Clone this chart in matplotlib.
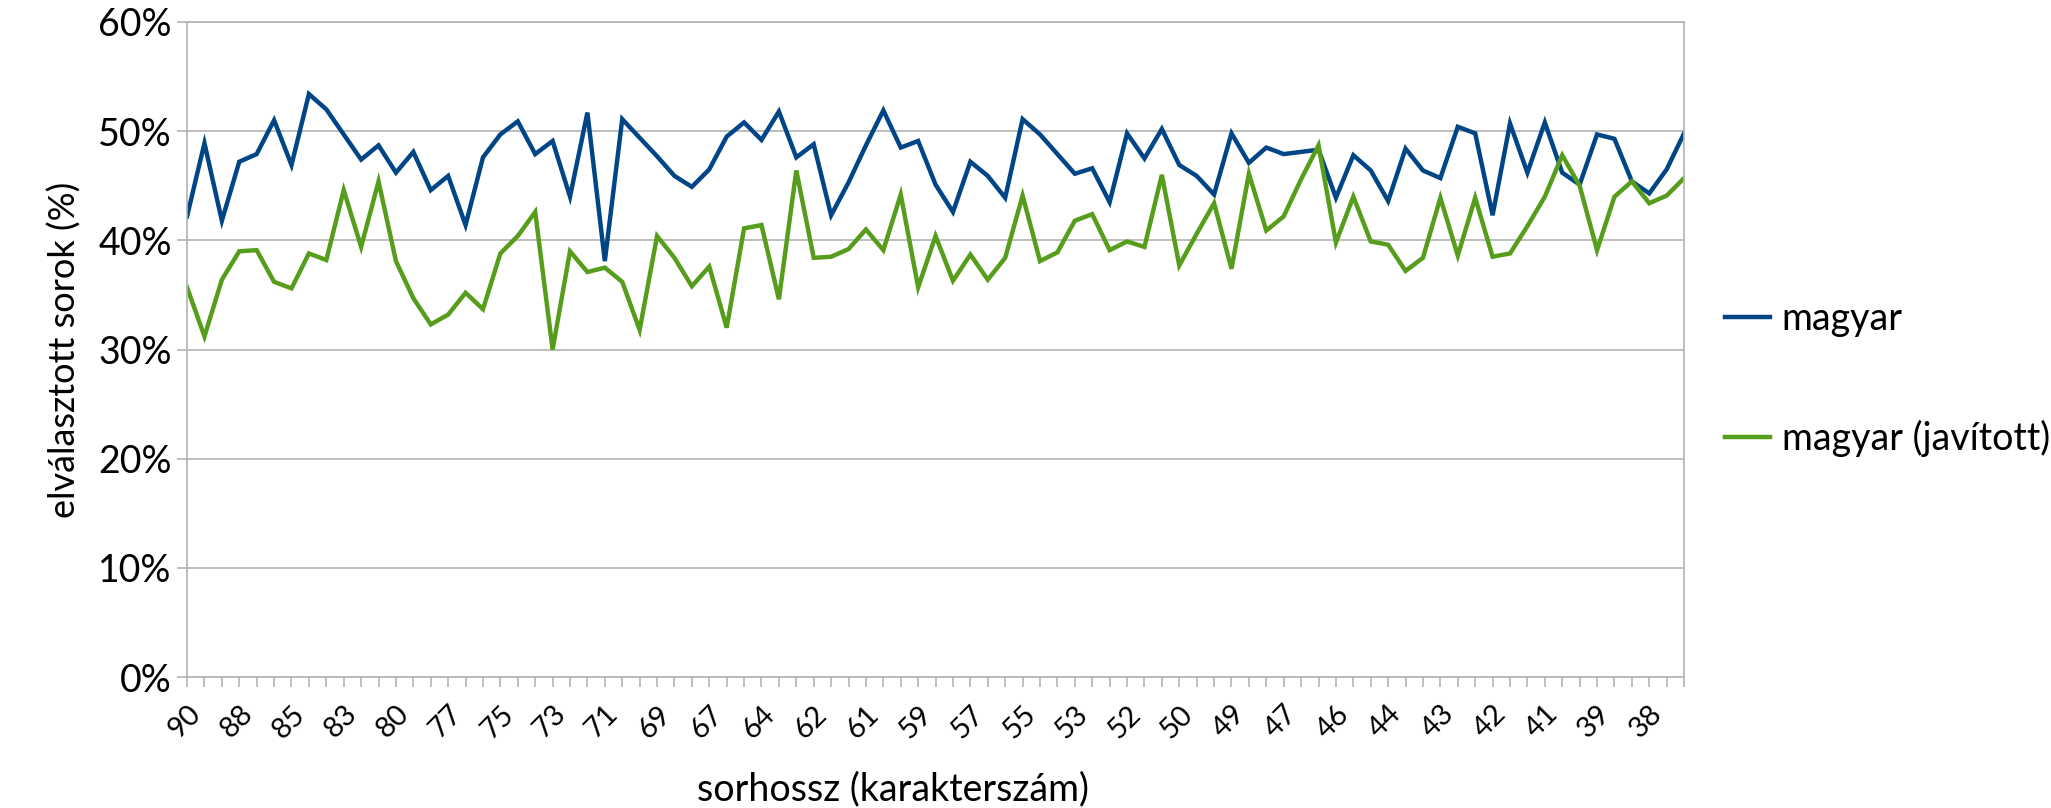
import matplotlib
matplotlib.use("Agg")
import matplotlib.pyplot as plt
from matplotlib.ticker import FuncFormatter, FixedLocator, MultipleLocator

plt.rcParams['font.family'] = ['Lato', 'DejaVu Sans']

# share of hyphenated lines (%) per line length bucket, longest lines first
magyar = [42.2, 48.9, 41.8, 47.2, 47.9, 51.0, 46.9, 53.4, 52.0, 49.7,
          47.4, 48.7, 46.2, 48.1, 44.6, 45.9, 41.4, 47.6, 49.7, 50.9,
          47.9, 49.1, 44.0, 51.7, 38.1, 51.1, 49.4, 47.7, 45.9, 44.9,
          46.5, 49.5, 50.8, 49.2, 51.8, 47.6, 48.8, 42.3, 45.3, 48.7,
          51.9, 48.5, 49.1, 45.1, 42.6, 47.2, 45.9, 43.9, 51.1, 49.7,
          47.9, 46.1, 46.6, 43.5, 49.8, 47.5, 50.2, 46.9, 45.9, 44.2,
          49.8, 47.1, 48.5, 47.9, 48.1, 48.3, 43.9, 47.8, 46.4, 43.6,
          48.4, 46.4, 45.7, 50.4, 49.8, 42.3, 50.7, 46.2, 50.8, 46.2,
          45.1, 49.7, 49.3, 45.4, 44.3, 46.5, 49.8]

magyar_javitott = [35.7, 31.2, 36.4, 39.0, 39.1, 36.2, 35.6, 38.8, 38.2, 44.6,
                   39.4, 45.4, 38.1, 34.7, 32.3, 33.2, 35.2, 33.7, 38.8, 40.4,
                   42.6, 30.0, 39.0, 37.1, 37.5, 36.2, 31.8, 40.4, 38.4, 35.8,
                   37.6, 32.0, 41.1, 41.4, 34.6, 46.4, 38.4, 38.5, 39.2, 41.0,
                   39.1, 44.2, 35.7, 40.4, 36.3, 38.7, 36.4, 38.4, 44.1, 38.1,
                   38.9, 41.8, 42.4, 39.1, 39.9, 39.4, 46.0, 37.7, 40.6, 43.4,
                   37.4, 46.1, 40.9, 42.2, 45.6, 48.7, 39.8, 44.0, 39.9, 39.6,
                   37.2, 38.4, 43.9, 38.6, 43.9, 38.5, 38.8, 41.3, 44.0, 47.8,
                   45.0, 39.1, 44.0, 45.4, 43.4, 44.1, 45.7]

# every third category gets a label
x_labels = ['90', '88', '85', '83', '80', '77', '75', '73', '71', '69',
            '67', '64', '62', '61', '59', '57', '55', '53', '52', '50',
            '49', '47', '46', '44', '43', '42', '41', '39', '38']
label_step = 3

blue = '#004586'
green = '#579d1c'
grid_gray = '#b3b3b3'

fig = plt.figure(figsize=(20.51, 8.08), dpi=100)
ax = fig.add_axes([0.0912, 0.162, 0.7299, 0.8108])

x = list(range(len(magyar)))
ax.plot(x, magyar, color=blue, lw=3.2, label='magyar', solid_joinstyle='miter')
ax.plot(x, magyar_javitott, color=green, lw=3.2, label='magyar (javított)',
        solid_joinstyle='miter')

ax.set_xlim(0, len(magyar) - 1)
ax.set_ylim(0, 60)
ax.yaxis.set_major_locator(MultipleLocator(10))
ax.yaxis.set_major_formatter(FuncFormatter(lambda v, p: '%d%%' % v))

ax.xaxis.set_major_locator(FixedLocator(x))
ax.set_xticklabels([x_labels[i // label_step] if i % label_step == 0 else ''
                    for i in x],
                   rotation=45, ha='right', va='top', rotation_mode='anchor',
                   fontsize=21)
ax.tick_params(axis='x', length=7, width=1.2, color=grid_gray, pad=10)
ax.tick_params(axis='y', length=7, width=1.2, color=grid_gray, labelsize=27, pad=4)

ax.grid(axis='y', color=grid_gray, lw=1.2)
ax.set_axisbelow(True)
for s in ax.spines.values():
    s.set_color(grid_gray)
    s.set_linewidth(1.2)

fig.text(0.4355, 0.009, 'sorhossz (karakterszám)', fontsize=27,
         ha='center', va='baseline')
ax.set_ylabel('elválasztott sorok (%)', fontsize=26, labelpad=12)

ax.legend(loc='center left', bbox_to_anchor=(1.005, 0.455), frameon=False,
          fontsize=27, labelspacing=2.2, handlelength=1.2, handletextpad=0.3)

fig.savefig('out.png', dpi=100)
